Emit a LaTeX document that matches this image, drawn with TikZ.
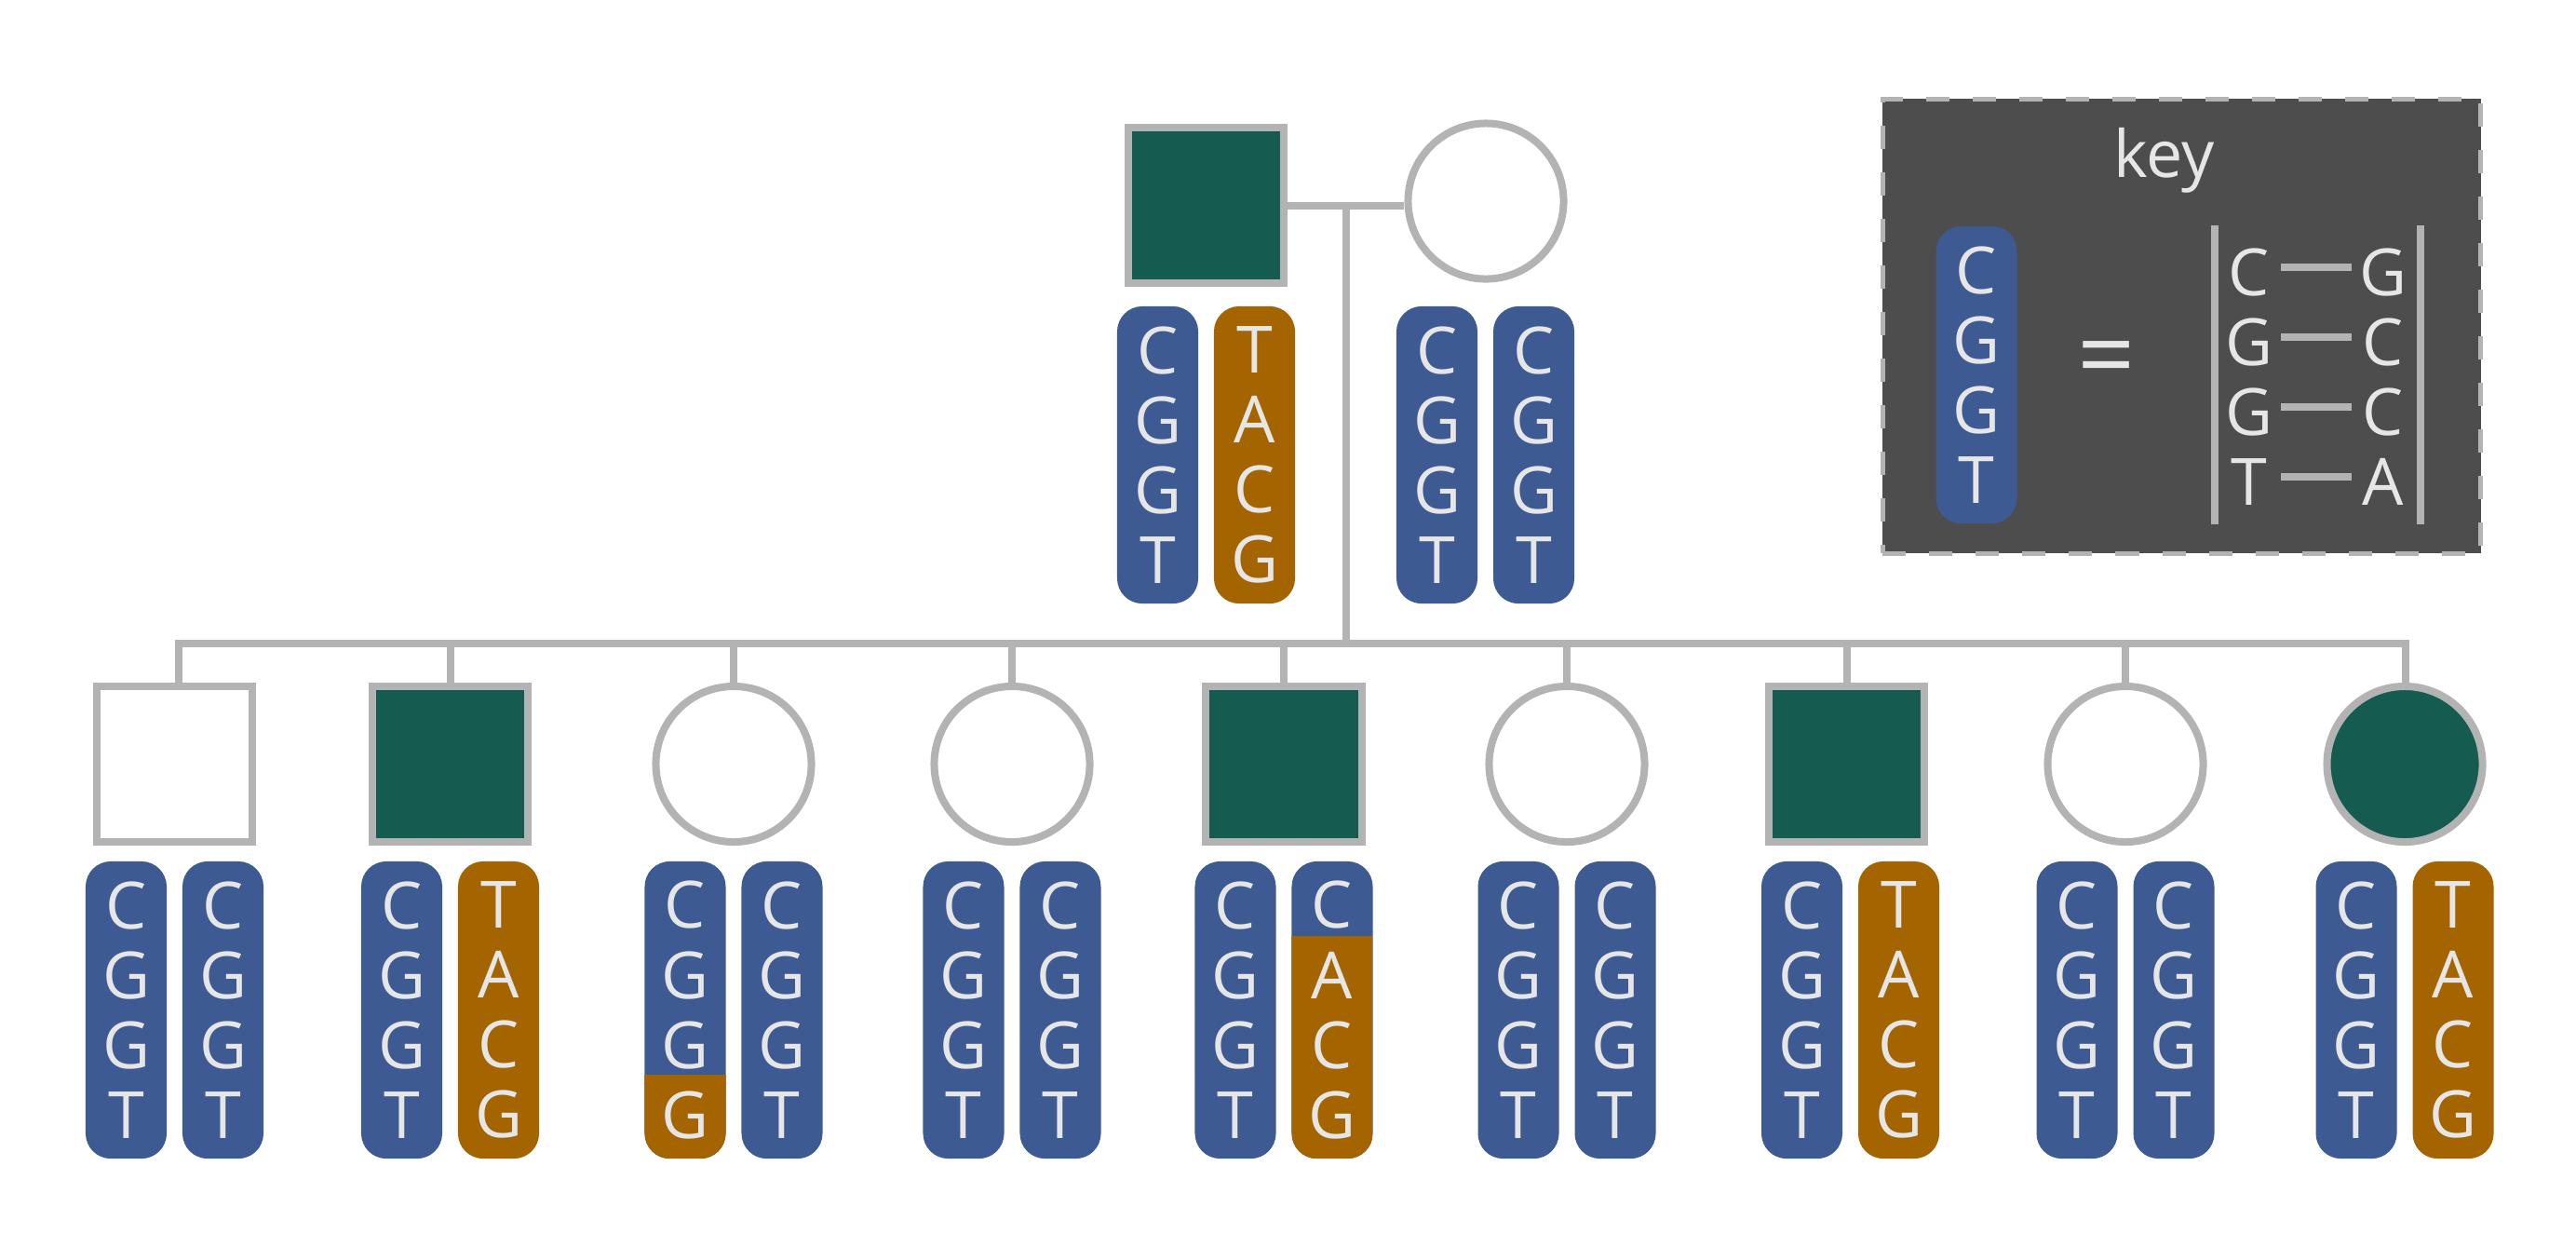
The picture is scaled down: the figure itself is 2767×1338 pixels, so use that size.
\documentclass[tikz,border=0pt]{standalone}
\usepackage{fontspec}
\setmainfont{Open Sans}
\definecolor{chromblue}{HTML}{3E5A92}
\definecolor{chromorange}{HTML}{A46400}
\definecolor{affgreen}{HTML}{165B50}
\definecolor{linegray}{HTML}{B3B3B3}
\definecolor{basegray}{HTML}{E6E6E6}
\definecolor{keygray}{HTML}{4D4D4D}
\newcommand\basefont{\fontsize{19.9pt}{21.34pt}\selectfont}
\tikzset{
  pline/.style={draw=linegray, line width=0.08cm},
  male/.style={pline, fill=white, rectangle, minimum size=1.67cm, inner sep=0pt},
  female/.style={pline, fill=white, circle, minimum size=1.67cm, inner sep=0pt},
  affected/.style={fill=affgreen},
  chromo/.style={rectangle, rounded corners=0.27cm, minimum width=0.87cm, minimum height=3.19cm,
    inner sep=0pt, text=basegray, align=center, font=\basefont},
  normal/.style={chromo, fill=chromblue},
  variant/.style={chromo, fill=chromorange},
  crossover/.style={chromo, fill=chromblue, path picture={
    \fill[chromorange, sharp corners] ([yshift=-#1]path picture bounding box.north west)
      rectangle (path picture bounding box.south east);}},
  keybox/.style={draw=linegray, fill=keygray, line width=0.05cm, dash pattern=on 0.25cm off 0.25cm,
    minimum width=6.42cm, minimum height=4.875cm, inner sep=0pt},
  keyletter/.style={text=basegray, font=\basefont, inner sep=0pt, minimum width=0.66cm},
}
\begin{document}
\begin{tikzpicture}[x=0.01cm, y=-0.01cm]
            \fill[white] (0,0) rectangle (2767,1338);

            \coordinate (sibL) at (192,691);
            \coordinate (sibM) at (1446,691);
            \coordinate (sibR) at (2584,691);

            \node[male, affected] (F) at (1295.5,220.5) {};
            \node[female] (M) at (1596,216) {};

            \draw[pline] (F.east) -- (F.east -| M.west);
            \draw[pline] (sibM |- F.east) -- (sibM);

            \node[normal] (F1) at (1243.5,488.5) {C\\G\\G\\T};
            \node[variant] (F2) at (1347.5,488.5) {T\\A\\C\\G};
            \node[normal] (M1) at (1543.5,488.5) {C\\G\\G\\T};
            \node[normal] (M2) at (1647.5,488.5) {C\\G\\G\\T};

            \node[male] (S1) at (187.5,820.5) {};
            \node[male, affected] (S2) at (483.5,820.5) {};
            \node[female] (S3) at (788,820.5) {};
            \node[female] (S4) at (1087,820.5) {};
            \node[male, affected] (S5) at (1379,820.5) {};
            \node[female] (S6) at (1683,820.5) {};
            \node[male, affected] (S7) at (1983.5,820.5) {};
            \node[female] (S8) at (2283,820.5) {};
            \node[female, affected] (S9) at (2583,820.5) {};

            \draw[pline] (sibL |- S1.north) -- (sibL) -- (sibR) -- (sibR |- S9.north);
            \draw[pline] (S2.north |- sibL) -- (S2.north);
            \draw[pline] (S3.north |- sibL) -- (S3.north);
            \draw[pline] (S4.north |- sibL) -- (S4.north);
            \draw[pline] (S5.north |- sibL) -- (S5.north);
            \draw[pline] (S6.north |- sibL) -- (S6.north);
            \draw[pline] (S7.north |- sibL) -- (S7.north);
            \draw[pline] (S8.north |- sibL) -- (S8.north);

            \node[normal] (S1a) at (135.5,1084.5) {C\\G\\G\\T};
            \node[normal] (S1b) at (239.5,1084.5) {C\\G\\G\\T};

            \node[normal] (S2a) at (431.5,1084.5) {C\\G\\G\\T};
            \node[variant] (S2b) at (535.5,1084.5) {T\\A\\C\\G};

            \node[crossover=2.29cm] (S3a) at (736,1084.5) {C\\G\\G\\G};
            \node[normal] (S3b) at (840,1084.5) {C\\G\\G\\T};

            \node[normal] (S4a) at (1035,1084.5) {C\\G\\G\\T};
            \node[normal] (S4b) at (1139,1084.5) {C\\G\\G\\T};

            \node[normal] (S5a) at (1327,1084.5) {C\\G\\G\\T};
            \node[crossover=0.80cm] (S5b) at (1431,1084.5) {C\\A\\C\\G};

            \node[normal] (S6a) at (1631,1084.5) {C\\G\\G\\T};
            \node[normal] (S6b) at (1735,1084.5) {C\\G\\G\\T};

            \node[normal] (S7a) at (1935.5,1084.5) {C\\G\\G\\T};
            \node[variant] (S7b) at (2039.5,1084.5) {T\\A\\C\\G};

            \node[normal] (S8a) at (2231,1084.5) {C\\G\\G\\T};
            \node[normal] (S8b) at (2335,1084.5) {C\\G\\G\\T};

            \node[normal] (S9a) at (2531,1084.5) {C\\G\\G\\T};
            \node[variant] (S9b) at (2635,1084.5) {T\\A\\C\\G};

            \node[keybox] (key) at (2343.5,350.25) {};
            \node[text=basegray, font=\basefont, anchor=base] (keytitle) at (2324.5,190) {key};
            \node[normal] (keychromo) at (2123,402.5) {C\\G\\G\\T};
            \node[text=basegray, inner sep=0pt, font=\fontsize{31pt}{31pt}\selectfont] (eq) at (2263,393) {=};

            \coordinate (railLt) at (2379,242);
            \coordinate (railLb) at (2379,563);
            \coordinate (railRt) at (2600,242);
            \coordinate (railRb) at (2600,563);
            \draw[pline] (railLt) -- (railLb);
            \draw[pline] (railRt) -- (railRb);

            \node[keyletter] (kl1) at (2416,292) {C};
            \node[keyletter] (kl2) at (2416,367) {G};
            \node[keyletter] (kl3) at (2416,442) {G};
            \node[keyletter] (kl4) at (2416,517) {T};
            \node[keyletter] (kr1) at (2560,292) {G};
            \node[keyletter] (kr2) at (2560,367) {C};
            \node[keyletter] (kr3) at (2560,442) {C};
            \node[keyletter] (kr4) at (2560,517) {A};

            \draw[pline] ([yshift=0.05cm]kl1.east) -- ([yshift=0.05cm]kr1.west);
            \draw[pline] ([yshift=0.05cm]kl2.east) -- ([yshift=0.05cm]kr2.west);
            \draw[pline] ([yshift=0.05cm]kl3.east) -- ([yshift=0.05cm]kr3.west);
            \draw[pline] ([yshift=0.05cm]kl4.east) -- ([yshift=0.05cm]kr4.west);
        \end{tikzpicture}
\end{document}
